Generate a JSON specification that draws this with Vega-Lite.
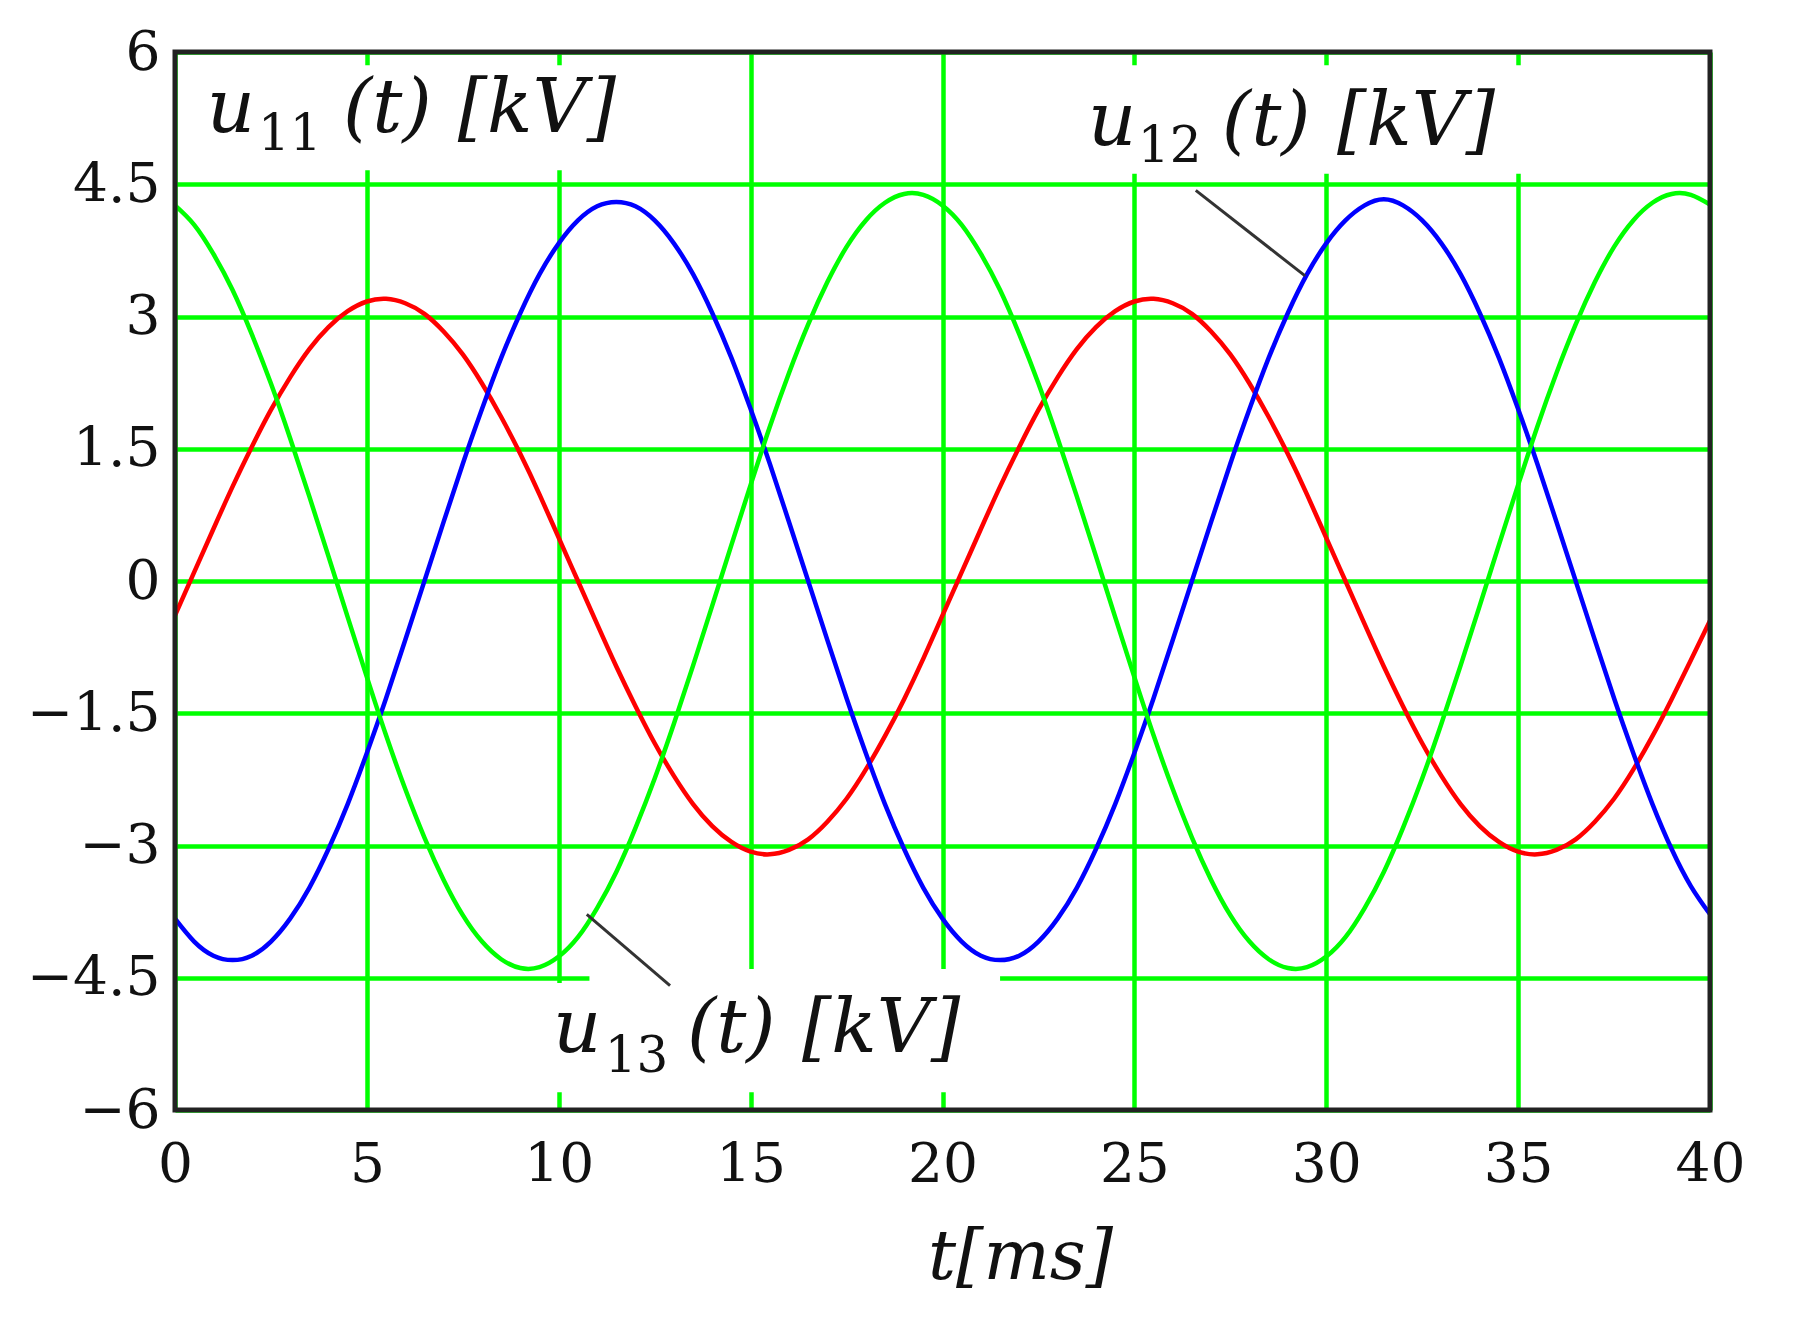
{
  "$schema": "https://vega.github.io/schema/vega-lite/v6.json",
  "width": 1535,
  "height": 1058,
  "autosize": {"type": "none"},
  "padding": {"left": 175, "top": 52, "right": 93, "bottom": 219},
  "background": "white",
  "config": {"view": {"stroke": null}},
  "datasets": {
    "wave": [
      {"x": 0, "u11": -0.39, "u12": -3.83, "u13": 4.26},
      {"x": 0.5, "u11": 0.10, "u12": -4.09, "u13": 4.04},
      {"x": 1, "u11": 0.59, "u12": -4.25, "u13": 3.71},
      {"x": 1.5, "u11": 1.07, "u12": -4.30, "u13": 3.30},
      {"x": 2, "u11": 1.52, "u12": -4.25, "u13": 2.80},
      {"x": 2.5, "u11": 1.94, "u12": -4.09, "u13": 2.24},
      {"x": 3, "u11": 2.31, "u12": -3.83, "u13": 1.62},
      {"x": 3.5, "u11": 2.63, "u12": -3.48, "u13": 0.96},
      {"x": 4, "u11": 2.88, "u12": -3.04, "u13": 0.28},
      {"x": 4.5, "u11": 3.06, "u12": -2.53, "u13": -0.41},
      {"x": 5, "u11": 3.17, "u12": -1.95, "u13": -1.09},
      {"x": 5.5, "u11": 3.20, "u12": -1.33, "u13": -1.75},
      {"x": 6, "u11": 3.15, "u12": -0.67, "u13": -2.36},
      {"x": 6.5, "u11": 3.03, "u12": 0.00, "u13": -2.91},
      {"x": 7, "u11": 2.83, "u12": 0.67, "u13": -3.39},
      {"x": 7.5, "u11": 2.57, "u12": 1.33, "u13": -3.79},
      {"x": 8, "u11": 2.24, "u12": 1.95, "u13": -4.09},
      {"x": 8.5, "u11": 1.86, "u12": 2.53, "u13": -4.29},
      {"x": 9, "u11": 1.44, "u12": 3.04, "u13": -4.39},
      {"x": 9.5, "u11": 0.98, "u12": 3.48, "u13": -4.38},
      {"x": 10, "u11": 0.49, "u12": 3.83, "u13": -4.26},
      {"x": 10.5, "u11": 0.00, "u12": 4.09, "u13": -4.04},
      {"x": 11, "u11": -0.49, "u12": 4.25, "u13": -3.71},
      {"x": 11.5, "u11": -0.97, "u12": 4.30, "u13": -3.30},
      {"x": 12, "u11": -1.42, "u12": 4.25, "u13": -2.80},
      {"x": 12.5, "u11": -1.84, "u12": 4.09, "u13": -2.24},
      {"x": 13, "u11": -2.21, "u12": 3.83, "u13": -1.62},
      {"x": 13.5, "u11": -2.53, "u12": 3.48, "u13": -0.96},
      {"x": 14, "u11": -2.78, "u12": 3.04, "u13": -0.28},
      {"x": 14.5, "u11": -2.96, "u12": 2.53, "u13": 0.41},
      {"x": 15, "u11": -3.07, "u12": 1.95, "u13": 1.09},
      {"x": 15.5, "u11": -3.10, "u12": 1.33, "u13": 1.75},
      {"x": 16, "u11": -3.05, "u12": 0.67, "u13": 2.36},
      {"x": 16.5, "u11": -2.93, "u12": 0.00, "u13": 2.91},
      {"x": 17, "u11": -2.73, "u12": -0.67, "u13": 3.39},
      {"x": 17.5, "u11": -2.47, "u12": -1.33, "u13": 3.79},
      {"x": 18, "u11": -2.14, "u12": -1.95, "u13": 4.09},
      {"x": 18.5, "u11": -1.76, "u12": -2.53, "u13": 4.29},
      {"x": 19, "u11": -1.34, "u12": -3.04, "u13": 4.39},
      {"x": 19.5, "u11": -0.88, "u12": -3.48, "u13": 4.38},
      {"x": 20, "u11": -0.39, "u12": -3.83, "u13": 4.26},
      {"x": 20.5, "u11": 0.10, "u12": -4.09, "u13": 4.04},
      {"x": 21, "u11": 0.59, "u12": -4.25, "u13": 3.71},
      {"x": 21.5, "u11": 1.07, "u12": -4.30, "u13": 3.30},
      {"x": 22, "u11": 1.52, "u12": -4.25, "u13": 2.80},
      {"x": 22.5, "u11": 1.94, "u12": -4.09, "u13": 2.24},
      {"x": 23, "u11": 2.31, "u12": -3.83, "u13": 1.62},
      {"x": 23.5, "u11": 2.63, "u12": -3.48, "u13": 0.96},
      {"x": 24, "u11": 2.88, "u12": -3.04, "u13": 0.28},
      {"x": 24.5, "u11": 3.06, "u12": -2.53, "u13": -0.41},
      {"x": 25, "u11": 3.17, "u12": -1.95, "u13": -1.09},
      {"x": 25.5, "u11": 3.20, "u12": -1.33, "u13": -1.75},
      {"x": 26, "u11": 3.15, "u12": -0.67, "u13": -2.36},
      {"x": 26.5, "u11": 3.03, "u12": 0.00, "u13": -2.91},
      {"x": 27, "u11": 2.83, "u12": 0.67, "u13": -3.39},
      {"x": 27.5, "u11": 2.57, "u12": 1.33, "u13": -3.79},
      {"x": 28, "u11": 2.24, "u12": 1.95, "u13": -4.09},
      {"x": 28.5, "u11": 1.86, "u12": 2.53, "u13": -4.29},
      {"x": 29, "u11": 1.44, "u12": 3.04, "u13": -4.39},
      {"x": 29.5, "u11": 0.98, "u12": 3.48, "u13": -4.38},
      {"x": 30, "u11": 0.49, "u12": 3.83, "u13": -4.26},
      {"x": 30.5, "u11": 0.00, "u12": 4.09, "u13": -4.04},
      {"x": 31, "u11": -0.49, "u12": 4.26, "u13": -3.71},
      {"x": 31.5, "u11": -0.97, "u12": 4.33, "u13": -3.30},
      {"x": 32, "u11": -1.42, "u12": 4.26, "u13": -2.80},
      {"x": 32.5, "u11": -1.84, "u12": 4.09, "u13": -2.24},
      {"x": 33, "u11": -2.21, "u12": 3.83, "u13": -1.62},
      {"x": 33.5, "u11": -2.53, "u12": 3.48, "u13": -0.96},
      {"x": 34, "u11": -2.78, "u12": 3.04, "u13": -0.28},
      {"x": 34.5, "u11": -2.96, "u12": 2.53, "u13": 0.41},
      {"x": 35, "u11": -3.07, "u12": 1.95, "u13": 1.09},
      {"x": 35.5, "u11": -3.10, "u12": 1.33, "u13": 1.75},
      {"x": 36, "u11": -3.05, "u12": 0.67, "u13": 2.36},
      {"x": 36.5, "u11": -2.93, "u12": 0.00, "u13": 2.91},
      {"x": 37, "u11": -2.73, "u12": -0.67, "u13": 3.39},
      {"x": 37.5, "u11": -2.47, "u12": -1.33, "u13": 3.79},
      {"x": 38, "u11": -2.14, "u12": -1.95, "u13": 4.09},
      {"x": 38.5, "u11": -1.76, "u12": -2.53, "u13": 4.29},
      {"x": 39, "u11": -1.34, "u12": -3.04, "u13": 4.39},
      {"x": 39.5, "u11": -0.90, "u12": -3.46, "u13": 4.38},
      {"x": 40, "u11": -0.45, "u12": -3.78, "u13": 4.27}
    ],
    "boxes": [
      {"x": 0.5, "x2": 12.5, "y": 4.66, "y2": 5.85},
      {"x": 23.5, "x2": 35.6, "y": 4.62, "y2": 5.85},
      {"x": 9.7, "x2": 21.5, "y": -5.8, "y2": -4.56},
      {"x": 10.8, "x2": 21.5, "y": -4.56, "y2": -4.4}
    ],
    "leaders": [
      {"x": 26.6, "y": 4.43, "x2": 29.45, "y2": 3.46},
      {"x": 10.73, "y": -3.78, "x2": 12.9, "y2": -4.59}
    ],
    "mainText": [
      {"x": 0.83, "y": 5.09, "text": "u"},
      {"x": 4.38, "y": 5.09, "text": "(t)"},
      {"x": 7.37, "y": 5.09, "text": "[kV]"},
      {"x": 23.79, "y": 4.95, "text": "u"},
      {"x": 27.28, "y": 4.95, "text": "(t)"},
      {"x": 30.28, "y": 4.95, "text": "[kV]"},
      {"x": 9.85, "y": -5.34, "text": "u"},
      {"x": 13.34, "y": -5.34, "text": "(t)"},
      {"x": 16.34, "y": -5.34, "text": "[kV]"}
    ],
    "subText": [
      {"x": 2.16, "y": 4.89, "text": "11"},
      {"x": 25.09, "y": 4.75, "text": "12"},
      {"x": 11.2, "y": -5.57, "text": "13"}
    ],
    "frame": [
      {"x": 0, "x2": 40, "y": -6, "y2": 6}
    ]
  },
  "encoding": {
    "x": {
      "field": "x",
      "type": "quantitative",
      "scale": {"domain": [0, 40], "nice": false, "zero": false},
      "axis": {
        "values": [0, 5, 10, 15, 20, 25, 30, 35, 40],
        "grid": true,
        "gridColor": "#00ff00",
        "gridWidth": 4.5,
        "gridOpacity": 1,
        "ticks": false,
        "domain": false,
        "labelFont": "DejaVu Serif",
        "labelFontSize": 55,
        "labelColor": "#111111",
        "labelPadding": 28,
        "labelDx": 6,
        "labelFlush": false,
        "labelOverlap": false,
        "title": "t[ms]",
        "titleFont": "DejaVu Serif",
        "titleFontStyle": "italic",
        "titleFontWeight": "normal",
        "titleFontSize": 70,
        "titleColor": "#111111",
        "titleX": 845,
        "titleY": 168,
        "titleAlign": "center",
        "titleBaseline": "alphabetic"
      }
    },
    "y": {
      "field": "y",
      "type": "quantitative",
      "scale": {"domain": [-6, 6], "nice": false, "zero": false},
      "axis": {
        "values": [-6, -4.5, -3, -1.5, 0, 1.5, 3, 4.5, 6],
        "format": ".2~f",
        "grid": true,
        "gridColor": "#00ff00",
        "gridWidth": 4.5,
        "gridOpacity": 1,
        "ticks": false,
        "domain": false,
        "labelFont": "DejaVu Serif",
        "labelFontSize": 55,
        "labelColor": "#111111",
        "labelPadding": 15,
        "labelDy": 9,
        "labelFlush": false,
        "labelOverlap": false,
        "title": null
      }
    }
  },
  "layer": [
    {
      "data": {"name": "boxes"},
      "mark": {"type": "rect", "fill": "white"},
      "encoding": {"x2": {"field": "x2"}, "y2": {"field": "y2"}}
    },
    {
      "data": {"name": "wave"},
      "transform": [{"fold": ["u11", "u12", "u13"], "as": ["s", "y"]}],
      "mark": {"type": "line", "interpolate": "natural"},
      "encoding": {
        "color": {
          "field": "s",
          "type": "nominal",
          "scale": {"domain": ["u11", "u12", "u13"], "range": ["#ff0000", "#0000ff", "#00ff00"]},
          "legend": null
        },
        "strokeWidth": {
          "field": "s",
          "type": "nominal",
          "scale": {"domain": ["u11", "u12", "u13"], "range": [4.5, 4.5, 3]},
          "legend": null
        }
      }
    },
    {
      "data": {"name": "leaders"},
      "mark": {"type": "rule", "color": "#333333", "strokeWidth": 3},
      "encoding": {"x2": {"field": "x2"}, "y2": {"field": "y2"}}
    },
    {
      "data": {"name": "mainText"},
      "mark": {"type": "text", "font": "DejaVu Serif", "fontStyle": "italic", "fontSize": 75, "align": "left", "baseline": "alphabetic", "color": "#111111"},
      "encoding": {"text": {"field": "text"}}
    },
    {
      "data": {"name": "subText"},
      "mark": {"type": "text", "font": "DejaVu Serif", "fontSize": 50, "align": "left", "baseline": "alphabetic", "color": "#111111"},
      "encoding": {"text": {"field": "text"}}
    },
    {
      "data": {"name": "frame"},
      "mark": {"type": "rect", "fillOpacity": 0, "stroke": "#222222", "strokeWidth": 5},
      "encoding": {"x2": {"field": "x2"}, "y2": {"field": "y2"}}
    }
  ]
}
